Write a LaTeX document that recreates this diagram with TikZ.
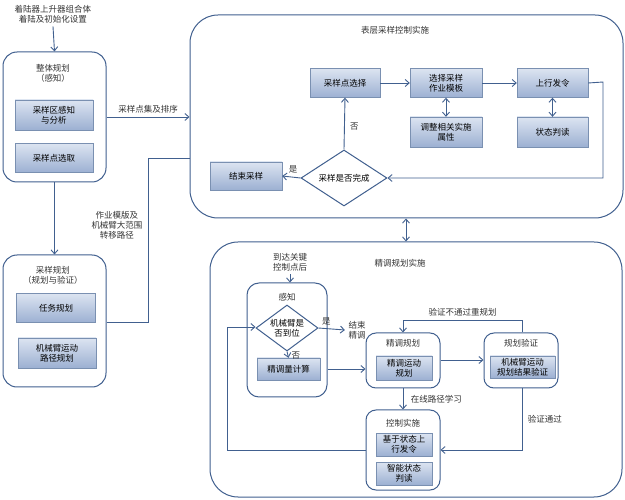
\documentclass[tikz,border=0pt]{standalone}
\usepackage{fontspec}
\newfontfamily\cjk{Noto Sans CJK SC}
\usetikzlibrary{shapes.geometric,arrows.meta}
\definecolor{ln}{HTML}{41608F}
\definecolor{tp}{HTML}{DCE4F1}
\definecolor{bt}{HTML}{9CB0D2}
\begin{document}
\begin{tikzpicture}[x=1pt,y=-1pt,font=\cjk\fontsize{8.5}{10}\selectfont,
 grp/.style={draw=ln,line width=1pt,rounded corners=14pt},
 big/.style={draw=ln,line width=1pt,rounded corners=28pt},
 ib/.style={draw=ln!70,top color=tp,bottom color=bt,align=center,inner sep=1pt},
 ar/.style={draw=ln,line width=0.9pt,-{Straight Barb[length=4pt,width=7pt]}},
 da/.style={draw=ln,line width=0.9pt,{Straight Barb[length=4pt,width=7pt]}-{Straight Barb[length=4pt,width=7pt]}},
 ln/.style={draw=ln,line width=0.9pt},
 dia/.style={diamond,draw=ln,line width=1pt,aspect=1.55,inner sep=0pt,align=center},
 lb/.style={align=center,text=black!80}]
\useasboundingbox (0,0) rectangle (625,500);
\fill[white] (0,0) rectangle (625,500);
% left column
\node[lb] (start) at (53,14) {着陆器上升器组合体\\着陆及初始化设置};
\node[grp,minimum width=103pt,minimum height=130pt] (g1) at (54.5,117) {};
\node[lb] (g1t) at (53,73) {整体规划\\（感知）};
\node[ib,minimum width=78pt,minimum height=30pt] (a1) at (54,115) {采样区感知\\与分析};
\node[ib,minimum width=78pt,minimum height=29pt] (a2) at (54,158) {采样点选取};
\draw[ar] (start.south) -- (g1.north);
\node[grp,minimum width=103pt,minimum height=132pt] (g2) at (54.5,321) {};
\node[lb] (g2t) at (53,275) {采样规划\\（规划与验证）};
\node[ib,minimum width=79pt,minimum height=29pt] (b1) at (56,308) {任务规划};
\node[ib,minimum width=78pt,minimum height=30pt] (b2) at (57,353) {机械臂运动\\路径规划};
\draw[ar] (g1.south) -- (g2.north);
% top big box
\node[big,minimum width=433pt,minimum height=203pt] (T) at (406.5,116.5) {};
\node[lb] (Tt) at (395,30) {表层采样控制实施};
\coordinate (Tin) at (T.west|-0,117);
\draw[ar] (g1.east|-0,117) -- node[above,lb]{采样点集及排序} (Tin);
\coordinate (c1) at (148,322); \coordinate (c2) at (148,158);
\draw[ln] (g2.east|-c1) -- (c1) -- (c2) -- (T.west|-c2);
\node[lb] (tl) at (117,225) {作业模版及\\机械臂大范围\\转移路径};
\node[ib,minimum width=70pt,minimum height=29pt] (s1) at (345,83) {采样点选择};
\node[ib,minimum width=72pt,minimum height=29pt] (s2) at (446,83) {选择采样\\作业模板};
\node[ib,minimum width=71pt,minimum height=29pt] (s3) at (552.5,83) {上行发令};
\node[ib,minimum width=72pt,minimum height=30pt] (s4) at (446,132) {调整相关实施\\属性};
\node[ib,minimum width=71pt,minimum height=30pt] (s5) at (552.5,132) {状态判读};
\node[dia,minimum width=86pt,minimum height=56pt] (d1) at (344,178) {采样是否完成};
\node[ib,minimum width=72pt,minimum height=28pt] (s6) at (246,176) {结束采样};
\draw[ar] (s1) -- (s2);
\draw[ar] (s2) -- (s3);
\draw[da] (s2) -- (s4);
\draw[da] (s3) -- (s5);
\coordinate (r1) at (603,82); \coordinate (r2) at (603,178);
\draw[ar] (s3.east) -- (r1) -- (r2) -- (d1.east);
\draw[ar] (d1.north) -- node[right,lb,pos=0.45,xshift=2pt]{否} (s1.south);
\draw[ar] (d1.west) -- node[above,lb,pos=0.4]{是} (s6.east);
% bottom big box
\node[big,minimum width=412pt,minimum height=255pt] (B) at (416,369.5) {};
\draw[da] (T.south-|406,0) -- (B.north-|406,0);
\node[lb] (Bt) at (400,263) {精调规划实施};
\node[lb] (kp) at (290,262) {到达关键\\控制点后};
\node[grp,rounded corners=12pt,minimum width=80pt,minimum height=114pt] (P) at (287,340) {};
\draw[ar] (kp.south) -- (P.north-|kp.south);
\node[lb] (Pt) at (287,297) {感知};
\node[dia,minimum width=62pt,minimum height=46pt] (d2) at (287,328) {机械臂是\\否到位};
\node[ib,minimum width=63pt,minimum height=22pt] (p1) at (288.5,369) {精调量计算};
\node[lb] (end2) at (357,330) {结束\\精调};
\draw[ar] (d2.east) -- node[above,lb,pos=0.3]{是} (end2.west);
\draw[ar] (d2.south) -- node[right,lb,pos=0.6]{否} (p1.north);
\node[grp,rounded corners=10pt,minimum width=74pt,minimum height=55pt] (F) at (403,360.5) {};
\node[lb] (Ft) at (403,343) {精调规划};
\node[ib,minimum width=56pt,minimum height=24pt] (f1) at (404,368) {精调运动\\规划};
\node[grp,rounded corners=10pt,minimum width=74pt,minimum height=55pt] (V) at (521,360.5) {};
\node[lb] (Vt) at (521,343) {规划验证};
\node[ib,minimum width=65pt,minimum height=22pt] (v1) at (522.5,367) {机械臂运动\\规划结果验证};
\node[grp,rounded corners=10pt,minimum width=74pt,minimum height=80pt] (C) at (403,450) {};
\node[lb] (Ct) at (403,423) {控制实施};
\node[ib,minimum width=56pt,minimum height=23pt] (c1b) at (404,444.5) {基于状态上\\行发令};
\node[ib,minimum width=56pt,minimum height=23pt] (c2b) at (404,473.5) {智能状态\\判读};
\draw[ar] (p1.east-|P.east) -- (F.west|-p1.east);
\draw[ar] (F.east|-0,360) -- (V.west|-0,360);
\coordinate (q1) at (522,320); \coordinate (q2) at (403,320);
\draw[ar] (V.north-|522,0) -- (q1) -- node[above,lb,pos=0.5]{验证不通过重规划} (q2) -- (F.north);
\draw[ar] (F.south) -- node[right,lb,xshift=4pt]{在线路径学习} (C.north);
\coordinate (w1) at (522,450);
\draw[ar] (V.south-|522,0) -- node[right,lb,pos=0.5,xshift=2pt]{验证通过} (w1) -- (C.east|-w1);
\coordinate (l1) at (227,450); \coordinate (l2) at (227,327);
\draw[ar] (C.west|-l1) -- (l1) -- (l2) -- (d2.west|-l2);
\end{tikzpicture}
\end{document}
